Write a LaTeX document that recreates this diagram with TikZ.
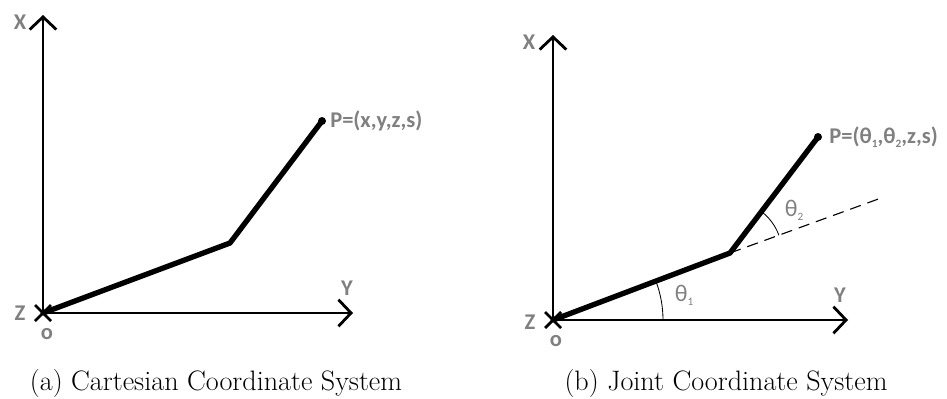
\documentclass[tikz,border=0pt]{standalone}
\usepackage{fontspec}
\newfontfamily\labelfont{Carlito}
\usetikzlibrary{arrows.meta}
\definecolor{labelgray}{RGB}{128,128,128}
\newcommand\lowidx[1]{\raisebox{-0.35ex}{\fontsize{8}{8}\selectfont #1}}

\begin{document}
\begin{tikzpicture}[
    axis/.style={line width=2pt, line cap=round, -{Straight Barb[length=9pt,width=19pt]}},
    link/.style={line width=3.8pt, line cap=round, line join=round},
    axislabel/.style={text=labelgray, inner sep=0pt, font=\labelfont\bfseries\fontsize{16}{19}\selectfont},
    anglelabel/.style={text=labelgray, inner sep=0pt, font=\labelfont\fontsize{17}{20}\selectfont},
    caption/.style={anchor=base, inner sep=0pt, font=\fontsize{20}{24}\selectfont}
]
    \useasboundingbox (0,0) rectangle (23.675,9.95);

    % (a) Cartesian coordinate system
    \coordinate (O1) at (1.075,2.125);
    \coordinate (X1) at (1.075,9.575);
    \coordinate (Y1) at (8.825,2.125);
    \coordinate (E1) at (5.75,3.875);
    \coordinate (P1) at (8.05,6.925);

    % Axes
    \draw[axis] (O1) -- (X1);
    \draw[axis] (O1) -- (Y1);
    \draw[line width=2pt] (O1) ++(-0.2,0.2) -- ++(0.4,-0.4);
    \draw[line width=2pt] (O1) ++(-0.2,-0.2) -- ++(0.4,0.4);

    % Links
    \draw[link] (O1) -- (E1) -- (P1);
    \fill (P1) circle (0.1);

    % Labels
    \node[axislabel] (xlab1) at (0.5,9.4) {X};
    \node[axislabel] (ylab1) at (8.675,2.75) {Y};
    \node[axislabel] (zlab1) at (0.5,2.125) {Z};
    \node[axislabel] (olab1) at (1.175,1.6) {o};
    \node[axislabel, right, xshift=0.2cm] (plab1) at (P1) {P=(x,y,z,s)};
    \node[caption] (capA) at (5.4,0.2) {(a) Cartesian Coordinate System};

    % (b) Joint coordinate system
    \coordinate (O2) at (13.825,1.95);
    \coordinate (X2) at (13.825,9.075);
    \coordinate (Y2) at (21.2,1.95);
    \coordinate (E2) at (18.25,3.625);
    \coordinate (P2) at (20.45,6.525);
    \path (E2) ++(20:3.95) coordinate (D2);

    % Axes
    \draw[axis] (O2) -- (X2);
    \draw[axis] (O2) -- (Y2);
    \draw[line width=2pt] (O2) ++(-0.2,0.2) -- ++(0.4,-0.4);
    \draw[line width=2pt] (O2) ++(-0.2,-0.2) -- ++(0.4,0.4);

    % Extension of the first link
    \draw[line width=0.8pt, dash pattern=on 8pt off 5pt] (E2) -- (D2);

    % Links
    \draw[link] (O2) -- (E2) -- (P2);
    \fill (P2) circle (0.1);

    % Joint angles
    \draw[line width=0.6pt] (O2) ++(0:2.75) arc[start angle=0, end angle=20.7, radius=2.75];
    \draw[line width=0.6pt] (E2) ++(20:1.3) arc[start angle=20, end angle=52.8, radius=1.3];

    % Labels
    \node[axislabel] (xlab2) at (13.225,8.9) {X};
    \node[axislabel] (ylab2) at (21.0,2.575) {Y};
    \node[axislabel] (zlab2) at (13.25,1.9) {Z};
    \node[axislabel] (olab2) at (13.9,1.42) {o};
    \node[anglelabel] (t1lab) at (17.1,2.575) {θ\lowidx{1}};
    \node[anglelabel] (t2lab) at (19.85,4.7) {θ\lowidx{2}};
    \node[axislabel, right, xshift=0.28cm] (plab2) at (P2) {P=(θ\lowidx{1},θ\lowidx{2},z,s)};
    \node[caption] (capB) at (18.15,0.2) {(b) Joint Coordinate System};
\end{tikzpicture}
\end{document}
